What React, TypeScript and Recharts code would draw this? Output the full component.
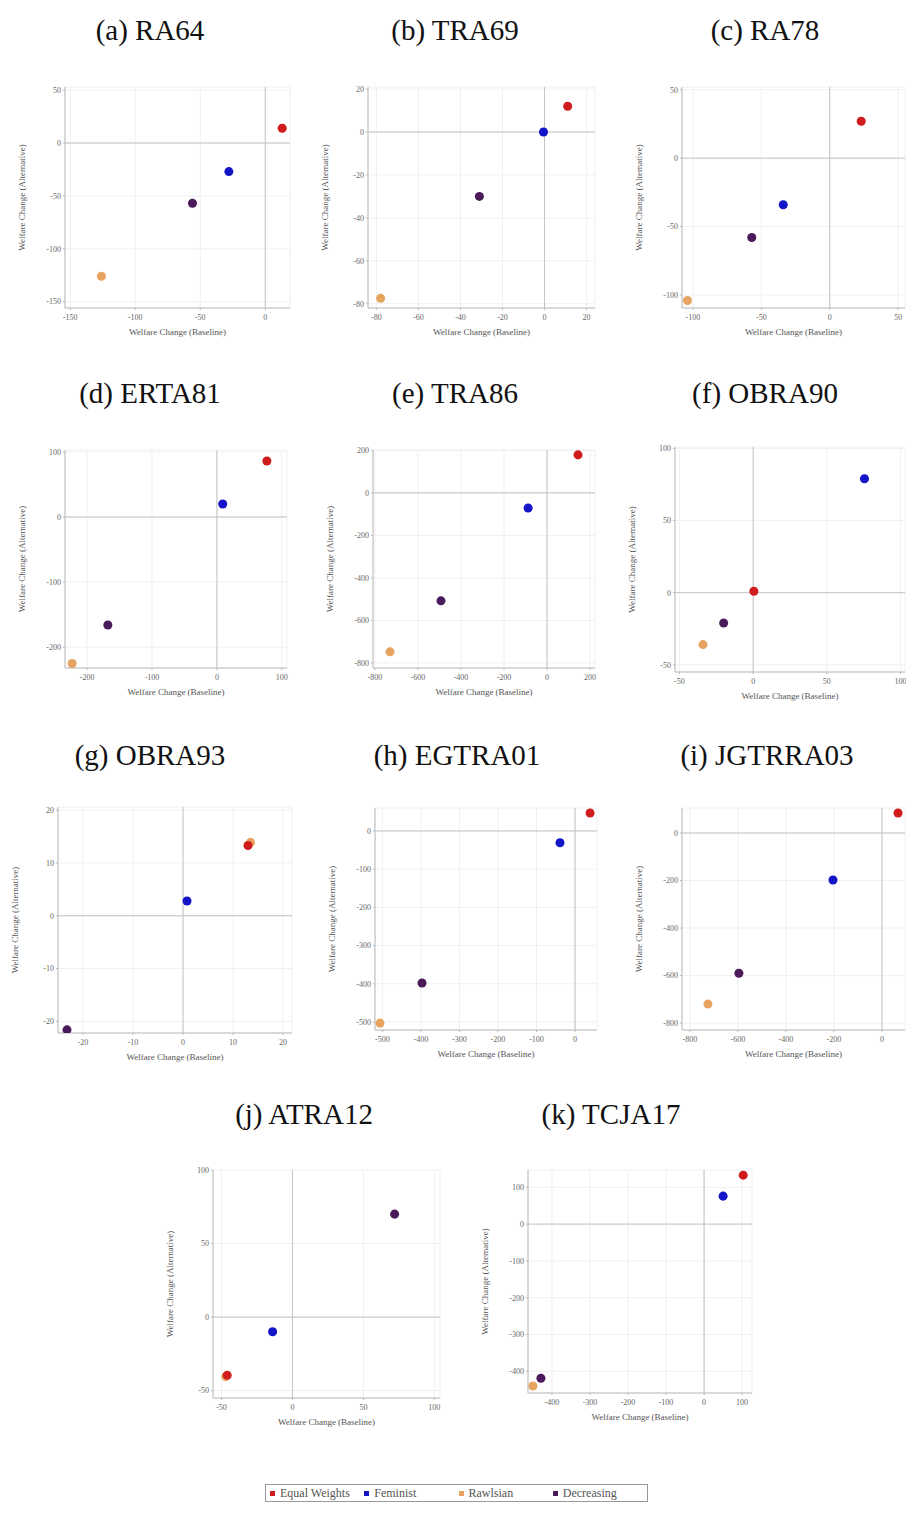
import React from "react";
import {
  ScatterChart,
  Scatter,
  XAxis,
  YAxis,
  ZAxis,
  CartesianGrid,
  ReferenceLine,
} from "recharts";

// one entry per panel, in reading order (a) .. (k)
const panelNames = [
  "(a) RA64",
  "(b) TRA69",
  "(c) RA78",
  "(d) ERTA81",
  "(e) TRA86",
  "(f) OBRA90",
  "(g) OBRA93",
  "(h) EGTRA01",
  "(i) JGTRRA03",
  "(j) ATRA12",
  "(k) TCJA17",
];

// welfare change under the baseline (x) and the alternative (y)
const equalX = [13, 11, 23, 77, 144, 0.5, 13, 39, 67, -46, 103];
const equalY = [14, 12, 27, 86, 179, 1, 13.3, 47, 84, -39.5, 133];
const feministX = [-28, -0.5, -34, 9, -88, 75.5, 0.8, -39, -204, -14, 50];
const feministY = [-27, 0, -34, 20, -71, 79, 2.8, -31, -198, -10, 76];
const rawlsianX = [-126, -78, -104, -223, -730, -34, 13.5, -506, -725, -47, -450];
const rawlsianY = [-126, -77.5, -104, -225, -748, -36, 13.9, -503, -720, -40.5, -440];
const decreasingX = [-56, -31, -57, -168, -493, -20, -23.2, -397, -596, 72, -429];
const decreasingY = [-57, -30, -58, -166, -508, -21, -21.6, -398, -590, 70, -419];

const xTicks = [
  [-150, -100, -50, 0],
  [-80, -60, -40, -20, 0, 20],
  [-100, -50, 0, 50],
  [-200, -100, 0, 100],
  [-800, -600, -400, -200, 0, 200],
  [-50, 0, 50, 100],
  [-20, -10, 0, 10, 20],
  [-500, -400, -300, -200, -100, 0],
  [-800, -600, -400, -200, 0],
  [-50, 0, 50, 100],
  [-400, -300, -200, -100, 0, 100],
];
const yTicks = [
  [-150, -100, -50, 0, 50],
  [-80, -60, -40, -20, 0, 20],
  [-100, -50, 0, 50],
  [-200, -100, 0, 100],
  [-800, -600, -400, -200, 0, 200],
  [-50, 0, 50, 100],
  [-20, -10, 0, 10, 20],
  [-500, -400, -300, -200, -100, 0],
  [-800, -600, -400, -200, 0],
  [-50, 0, 50, 100],
  [-400, -300, -200, -100, 0, 100],
];
const xDomains = [
  [-154, 19],
  [-84, 24],
  [-108, 55],
  [-234, 108],
  [-809, 223],
  [-53, 103],
  [-25, 21.8],
  [-519, 57],
  [-833, 96],
  [-56, 104],
  [-463, 126],
];
const yDomains = [
  [-156, 53],
  [-82, 21],
  [-109.5, 52],
  [-232, 103],
  [-824, 202],
  [-55, 101],
  [-22.2, 20.6],
  [-521, 60],
  [-829, 105],
  [-55, 100],
  [-459, 147],
];

const seriesNames = ["Equal Weights", "Feminist", "Rawlsian", "Decreasing"];
const seriesColors = ["#d01c1c", "#1414c8", "#e6a460", "#4a1a5a"];

// plot area boxes [left, top, right, bottom] in page pixels
const plotBoxes = [
  [65, 87, 290, 308],
  [368, 87, 595, 308],
  [682, 87, 905, 308],
  [65, 450, 287, 668],
  [373, 450, 595, 668],
  [675, 447, 905, 672],
  [58, 807, 292, 1033],
  [375, 808, 597, 1030],
  [682, 808, 905, 1030],
  [213, 1170, 440, 1398],
  [528, 1170, 752, 1393],
];
const titleCenters = [
  [150, 30],
  [455, 30],
  [765, 30],
  [150, 393],
  [455, 393],
  [765, 393],
  [150, 755],
  [457, 755],
  [767, 755],
  [304, 1114],
  [611, 1114],
];

const serif = "'Liberation Serif', 'DejaVu Serif', serif";
const tickStyle = { fontSize: 8, fill: "#666", fontFamily: serif };
const labelStyle = { fontSize: 9, fill: "#555", fontFamily: serif };

const Panel = ({ i }: { i: number }) => {
  const [L, T, R, B] = plotBoxes[i];
  const yAxisW = 60;
  const xAxisH = 30;
  const padTop = 10;
  const padRight = 5;
  const width = R - L + yAxisW + padRight;
  const height = B - T + padTop + xAxisH;

  const all = [
    { x: equalX, y: equalY },
    { x: feministX, y: feministY },
    { x: rawlsianX, y: rawlsianY },
    { x: decreasingX, y: decreasingY },
  ].map((s) => [{ x: s.x[i], y: s.y[i] }]);

  // drawn back to front so that Equal Weights sits on top
  const order = [3, 2, 1, 0];

  return (
    <div style={{ position: "absolute", left: L - yAxisW, top: T - padTop }}>
      <ScatterChart
        width={width}
        height={height}
        margin={{ top: padTop, right: padRight, bottom: 0, left: 0 }}
      >
        <CartesianGrid stroke="#f0f0f0" />
        <XAxis
          type="number"
          dataKey="x"
          domain={xDomains[i]}
          ticks={xTicks[i]}
          allowDataOverflow
          height={xAxisH}
          tick={tickStyle}
          tickSize={2}
          tickMargin={4}
          stroke="#bbb"
          label={{
            value: "Welfare Change (Baseline)",
            position: "insideBottom",
            offset: 3,
            style: labelStyle,
          }}
        />
        <YAxis
          type="number"
          dataKey="y"
          domain={yDomains[i]}
          ticks={yTicks[i]}
          allowDataOverflow
          width={yAxisW}
          tick={tickStyle}
          tickSize={2}
          tickMargin={2}
          stroke="#bbb"
          label={{
            value: "Welfare Change (Alternative)",
            angle: -90,
            position: "insideLeft",
            offset: 17,
            style: { ...labelStyle, textAnchor: "middle" },
          }}
        />
        <ZAxis range={[50, 50]} />
        <ReferenceLine x={0} stroke="#c4c4c4" />
        <ReferenceLine y={0} stroke="#c4c4c4" />
        {order.map((k) => (
          <Scatter
            key={seriesNames[k]}
            name={seriesNames[k]}
            data={all[k]}
            fill={seriesColors[k]}
            isAnimationActive={false}
          />
        ))}
      </ScatterChart>
    </div>
  );
};

export default function App() {
  return (
    <div
      style={{
        position: "absolute",
        left: 0,
        top: 0,
        width: 906,
        height: 1517,
        background: "#fff",
        fontFamily: serif,
      }}
    >
      {panelNames.map((name, i) => (
        <div
          key={name}
          style={{
            position: "absolute",
            left: titleCenters[i][0] - 130,
            top: titleCenters[i][1] - 17,
            width: 260,
            textAlign: "center",
            fontSize: 29,
            lineHeight: "34px",
            color: "#111",
          }}
        >
          {name}
        </div>
      ))}
      {panelNames.map((name, i) => (
        <Panel key={name} i={i} />
      ))}
      <div
        style={{
          position: "absolute",
          left: 265,
          top: 1484,
          width: 383,
          height: 18,
          border: "1px solid #999",
          display: "flex",
          alignItems: "center",
          paddingLeft: 4,
          fontSize: 12,
          color: "#555",
          boxSizing: "border-box",
        }}
      >
        {seriesNames.map((s, k) => (
          <span
            key={s}
            style={{ display: "flex", alignItems: "center", width: 106 }}
          >
            <span
              style={{
                display: "inline-block",
                width: 5,
                height: 5,
                background: seriesColors[k],
                marginRight: 5,
              }}
            />
            {s}
          </span>
        ))}
      </div>
    </div>
  );
}
